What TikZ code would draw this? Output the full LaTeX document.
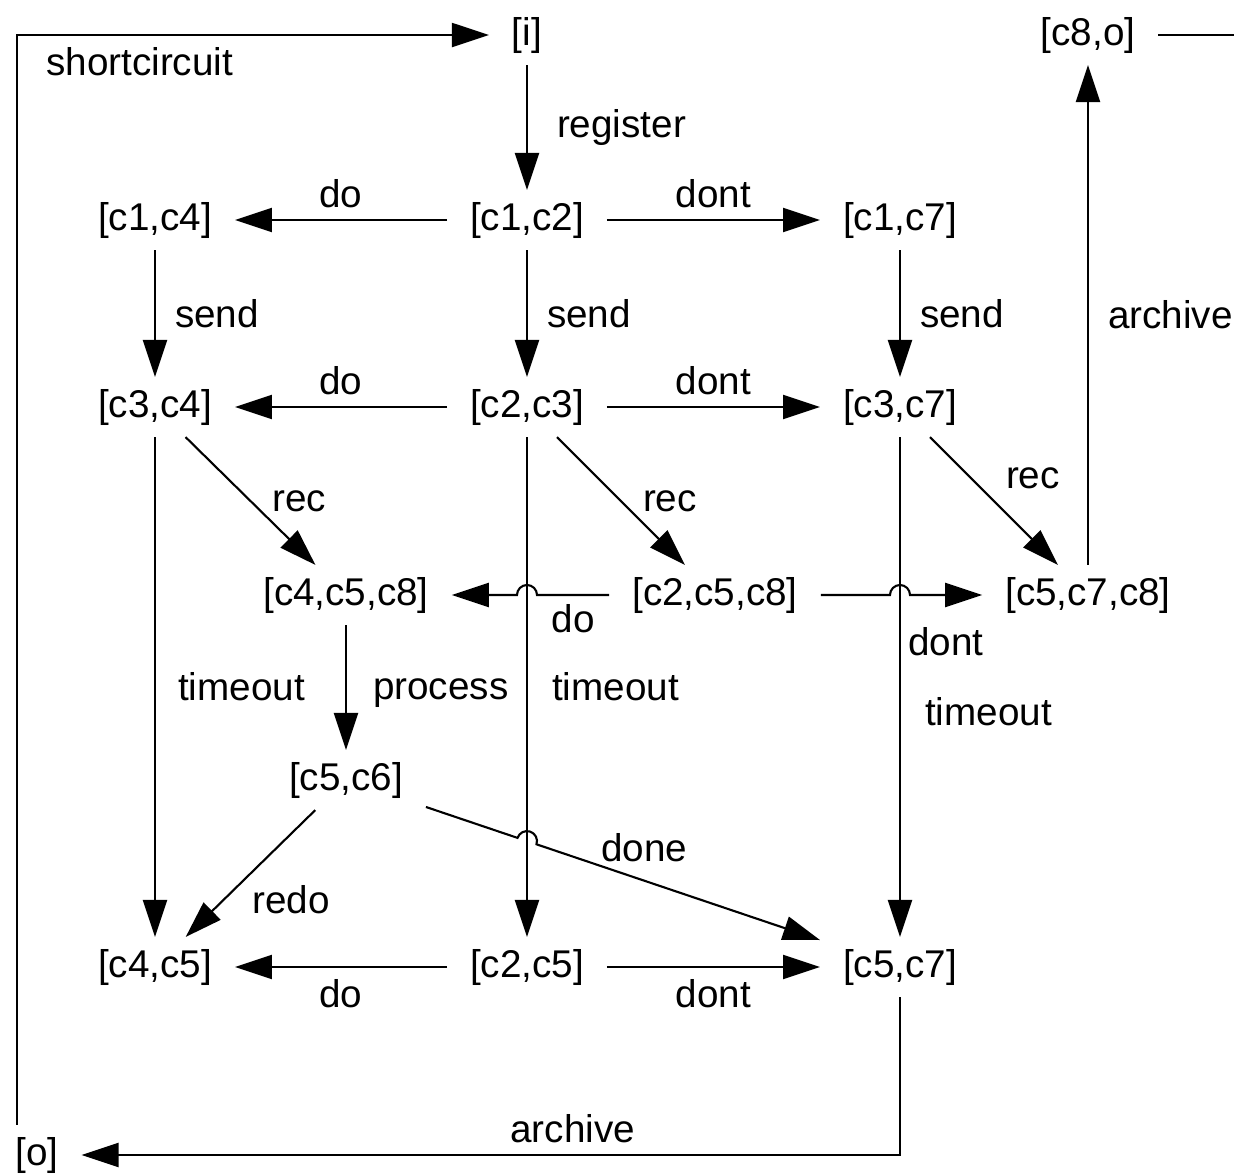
\documentclass[tikz,border=0pt]{standalone}
\usepackage{fontspec}
\setmainfont{Liberation Sans}
\usetikzlibrary{arrows.meta,calc}
\tikzset{
	place/.style={inner xsep=0.22cm,inner ysep=0.11cm,font=\fontsize{11}{13}\selectfont},
	lbl/.style={inner sep=0.11cm,font=\fontsize{11}{13}\selectfont}
}

\begin{document}
\begin{tikzpicture}[line width=0.6pt,>={Triangle[length=0.37cm,width=0.24cm]}]
	\useasboundingbox (0,0) rectangle (12.34,-11.74);

	\node [place] (i) at (5.27,-0.35) {[i]};
	\node [place] (c8o) at (10.88,-0.35) {[c8,o]};
	\node [place] (c14) at (1.55,-2.20) {[c1,c4]};
	\node [place] (c12) at (5.27,-2.20) {[c1,c2]};
	\node [place] (c17) at (9.00,-2.20) {[c1,c7]};
	\node [place] (c34) at (1.55,-4.07) {[c3,c4]};
	\node [place] (c23) at (5.27,-4.07) {[c2,c3]};
	\node [place] (c37) at (9.00,-4.07) {[c3,c7]};
	\node [place] (c458) at (3.46,-5.95) {[c4,c5,c8]};
	\node [place] (c258) at (7.15,-5.95) {[c2,c5,c8]};
	\node [place] (c578) at (10.88,-5.95) {[c5,c7,c8]};
	\node [place] (c56) at (3.46,-7.80) {[c5,c6]};
	\node [place] (c45) at (1.55,-9.67) {[c4,c5]};
	\node [place] (c25) at (5.27,-9.67) {[c2,c5]};
	\node [place] (c57) at (9.00,-9.67) {[c5,c7]};
	\node [place] (o) at (0.37,-11.55) {[o]};
	\coordinate (edge) at (12.34,-0.35);

	% first row
	\draw[->] (i) -- node[lbl,right=0.18cm] {register} (c12);
	\draw[->] (c12) -- node[lbl,above] {do} (c14);
	\draw[->] (c12) -- node[lbl,above] {dont} (c17);
	\draw[->] (c14) -- node[lbl,right=0.08cm] {send} (c34);
	\draw[->] (c12) -- node[lbl,right=0.08cm] {send} (c23);
	\draw[->] (c17) -- node[lbl,right=0.08cm] {send} (c37);

	% second row
	\draw[->] (c23) -- node[lbl,above] {do} (c34);
	\draw[->] (c23) -- node[lbl,above] {dont} (c37);
	\draw[->] (c34) -- node[lbl,right=0.1cm] {rec} (c458);
	\draw[->] (c23) -- node[lbl,right=0.1cm] {rec} (c258);
	\draw[->] (c37) -- node[lbl,above right] {rec} (c578);
	\draw[->] (c34) -- node[lbl,right=0.11cm] {timeout} (c45);
	\draw[->] (c23) -- node[lbl,right=0.13cm] {timeout} (c25);
	\draw[->] (c37) -- node[lbl,pos=0.55,right=0.13cm] {timeout} (c57);

	% third row, with hops
	\draw[->] (c258) -- node[lbl,below=-0.03cm] {do} ($(c258.west -| c23)+(0.1,0)$)
		arc[start angle=0,end angle=180,radius=0.1cm] -- (c458);
	\draw[->] (c258) -- ($(c258.east -| c37)-(0.1,0)$)
		arc[start angle=180,end angle=0,radius=0.1cm] -- node[lbl,below=0.2cm] {dont} (c578);
	\draw[->] (c458) -- node[lbl,right=0.15cm,yshift=-0.06cm] {process} (c56);
	\draw[->] (c56) -- node[lbl,below right,xshift=-0.1cm] {redo} (c45);
	\coordinate (x1) at (intersection cs: first line={(c56)--(c57)}, second line={(c23)--(c25)});
	\draw[->] let \p1=($(c57)-(c56)$), \n1={atan2(\y1,\x1)} in
		(c56) -- ($(x1)!0.1cm!(c56)$) arc[start angle=\n1+180,end angle=\n1,radius=0.1cm]
		-- node[lbl,pos=0.38,above=0.07cm] {done} (c57);

	% last row
	\draw[->] (c25) -- node[lbl,below] {do} (c45);
	\draw[->] (c25) -- node[lbl,below] {dont} (c57);

	% outer routes
	\draw[->] (c57) |- node[lbl,pos=0.7,above] {archive} (o);
	\draw[->] ($(o.north)+(-0.2,0)$) |- node[lbl,pos=0.63,below] {shortcircuit} (i);
	\draw[->] (c578) -- node[lbl,right=0.08cm] {archive} (c8o);
	\draw (c8o) -- (edge);
\end{tikzpicture}
\end{document}
